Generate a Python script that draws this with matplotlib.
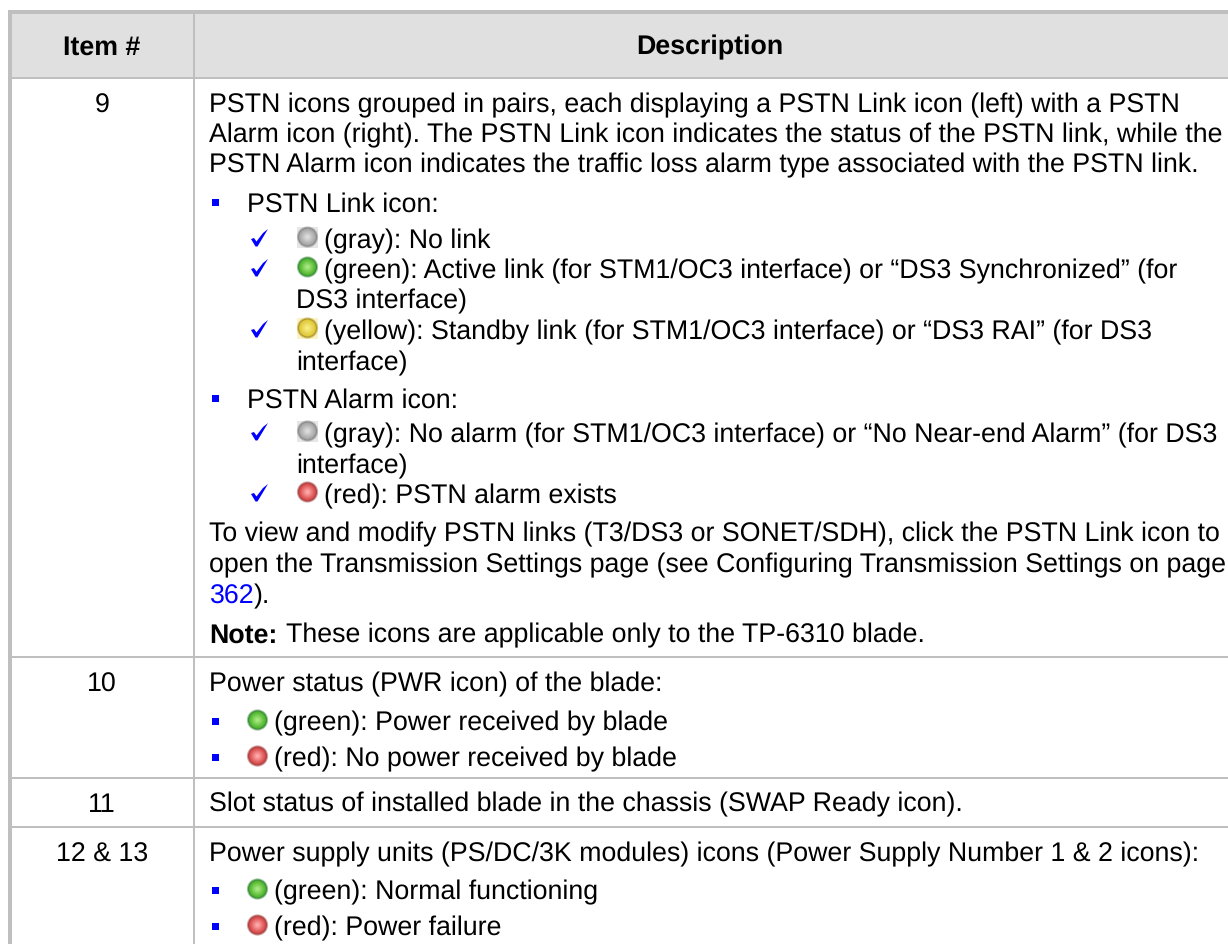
import matplotlib
matplotlib.use("Agg")
import matplotlib.pyplot as plt
import matplotlib.colors as mc
import numpy as np
from matplotlib.patches import Rectangle, Circle, PathPatch
from matplotlib.path import Path

plt.rcParams["text.hinting"] = "no_hinting"
plt.rcParams["text.hinting_factor"] = 8

W, H = 1228, 944
FONT = "Liberation Sans"
FS = 19.22
BLUE = "#0000ff"
GRID = "#bfbfbf"
# edge, body, highlight, square backdrop
ICON = {"gray": ("#8c8c8c", "#a6a6a6", "#dcdcdc", "#e6e6e6"),
        "green": ("#3f8f3f", "#4fb52c", "#a8e880", "#ffffff"),
        "yellow": ("#b09a30", "#e0c838", "#f8ec80", "#fbf3c4"),
        "red": ("#a84848", "#d84848", "#ffa8a8", "#ffffff")}

headers = ["Item #", "Description"]
item_labels = ["9", "10", "11", "12 & 13"]
lines = [
    ("p", "PSTN icons grouped in pairs, each displaying a PSTN Link icon (left) with a PSTN", None),
    ("p", "Alarm icon (right). The PSTN Link icon indicates the status of the PSTN link, while the", None),
    ("p", "PSTN Alarm icon indicates the traffic loss alarm type associated with the PSTN link.", None),
    ("b", "PSTN Link icon:", None),
    ("c", "(gray): No link", "gray"),
    ("c", "(green): Active link (for STM1/OC3 interface) or “DS3 Synchronized” (for", "green"),
    ("d", "DS3 interface)", None),
    ("c", "(yellow): Standby link (for STM1/OC3 interface) or “DS3 RAI” (for DS3", "yellow"),
    ("d", "interface)", None),
    ("b", "PSTN Alarm icon:", None),
    ("c", "(gray): No alarm (for STM1/OC3 interface) or “No Near-end Alarm” (for DS3", "gray"),
    ("d", "interface)", None),
    ("c", "(red): PSTN alarm exists", "red"),
    ("p", "To view and modify PSTN links (T3/DS3 or SONET/SDH), click the PSTN Link icon to", None),
    ("p", "open the Transmission Settings page (see Configuring Transmission Settings on page", None),
    ("l", "362", None),
    ("n", "These icons are applicable only to the TP-6310 blade.", None),
    ("p", "Power status (PWR icon) of the blade:", None),
    ("i", "(green): Power received by blade", "green"),
    ("i", "(red): No power received by blade", "red"),
    ("p", "Slot status of installed blade in the chassis (SWAP Ready icon).", None),
    ("p", "Power supply units (PS/DC/3K modules) icons (Power Supply Number 1 & 2 icons):", None),
    ("i", "(green): Normal functioning", "green"),
    ("i", "(red): Power failure", "red"),
]
line_y = [103, 133, 163, 202, 239, 269, 299, 330, 361, 398, 433, 464, 494,
          532, 563, 594, 633, 682, 721, 757, 802, 852, 890, 926]
item_y = [103, 682, 802, 852]
row_rules = [78, 656.5, 777.5, 827.2]

fig = plt.figure(figsize=(W / 100, H / 100), dpi=100, facecolor="white")
ax = fig.add_axes([0, 0, 1, 1])
ax.set_xlim(0, W)
ax.set_ylim(H, 0)
ax.axis("off")

ax.add_patch(Rectangle((12, 14), W - 12, 64, fc="#e0e0e0", ec="none", zorder=0))
ax.add_patch(Rectangle((8, 10), W - 8, 4, fc=GRID, ec="none", zorder=2))
ax.add_patch(Rectangle((8, 10), 4, H - 10, fc=GRID, ec="none", zorder=2))
ax.add_patch(Rectangle((192.7, 14), 2, H - 14, fc=GRID, ec="none", zorder=2))
for y in row_rules:
    ax.add_patch(Rectangle((12, y - 1), W - 12, 2, fc=GRID, ec="none", zorder=2))


def txt(x, y, s, **kw):
    kw.setdefault("color", "black")
    return ax.text(x, y + 9.5, s, family=FONT, fontsize=FS, va="baseline", **kw)


txt(102, 45, headers[0], ha="center", fontweight="bold")
txt(710, 45, headers[1], ha="center", fontweight="bold")
for s, y in zip(item_labels, item_y):
    txt(102, y, s, ha="center")


def icon(cx, cy, name):
    edge, body, hi, back = ICON[name]
    if back != "#ffffff":
        ax.add_patch(Rectangle((cx - 10.5, cy - 10.5), 21, 21, fc=back, ec="none", zorder=3))
    ax.add_patch(Circle((cx, cy), 10.6, fc=edge, ec="none", alpha=0.5, zorder=4))
    ax.add_patch(Circle((cx, cy), 9.6, fc=edge, ec="none", zorder=4))
    b = np.array(mc.to_rgb(body))
    h = np.array(mc.to_rgb(hi))
    for k, r in enumerate(np.linspace(8.4, 1.5, 8)):
        f = k / 7
        ax.add_patch(Circle((cx, cy), r, fc=tuple(b + (h - b) * f), ec="none", zorder=5 + k))


def check(x, y):
    verts = [(x, y + 1), (x + 3, y), (x + 5.5, y + 3.5), (x + 12, y - 5), (x + 17, y - 9),
             (x + 6.5, y + 8.5), (x + 4.5, y + 8.5), (x, y + 1)]
    ax.add_patch(PathPatch(Path(verts), fc=BLUE, ec="none", zorder=4))


def bullet(y):
    ax.add_patch(Rectangle((211.7, y - 3.2), 7, 7, fc=BLUE, ec="none"))


for (kind, s, col), y in zip(lines, line_y):
    if kind == "p":
        txt(209, y, s)
    elif kind == "b":
        bullet(y)
        txt(247, y, s)
    elif kind == "c":
        check(251, y - 1)
        icon(307.5, y - 2, col)
        txt(324.5, y, s)
    elif kind == "d":
        txt(296.5, y, s)
    elif kind == "l":
        txt(209.5, y, s, color=BLUE)
        txt(253.5, y, ").")
    elif kind == "n":
        txt(209.5, y, "Note:", fontweight="bold")
        txt(286, y, s)
    elif kind == "i":
        bullet(y)
        icon(257.5, y - 1, col)
        txt(274.5, y, s)

fig.savefig("out.png", dpi=100)
